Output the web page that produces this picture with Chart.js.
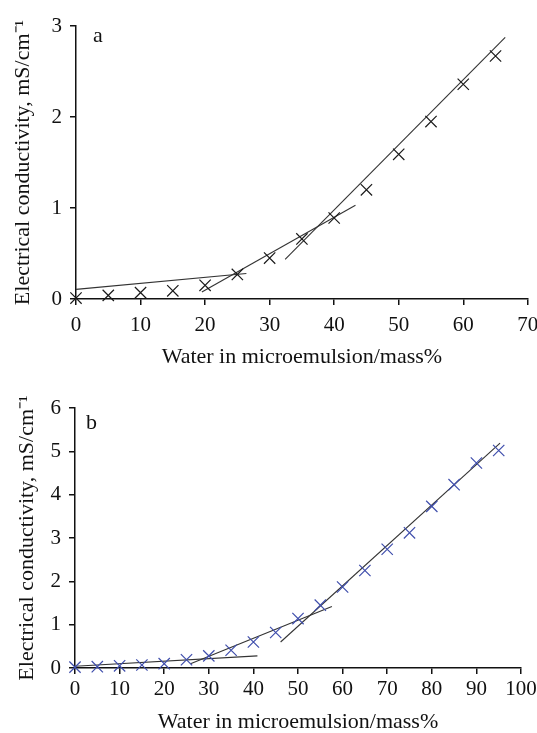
<!DOCTYPE html>
<html>
<head>
<meta charset="utf-8">
<script src="https://cdn.jsdelivr.net/npm/chart.js@4.4.1/dist/chart.umd.min.js"></script>
<style>
  html, body { margin: 0; background: #fff; overflow: hidden; }
  #wrap { position: relative; width: 537px; height: 733px; overflow: hidden; }
  canvas { position: absolute; left: 0; }
  #chartA { top: 0; }
  #chartB { top: 370px; }
  .tag { position: absolute; font-family: "Liberation Serif", serif; font-size: 22px; color: #111; }
</style>
</head>
<body>
<div id="wrap">
  <canvas id="chartA" width="537" height="370"></canvas>
  <canvas id="chartB" width="537" height="366"></canvas>
  <div class="tag" style="left:93px; top:22px;">a</div>
  <div class="tag" style="left:86px; top:409px;">b</div>
</div>
<script>
// panel a
var waterA = [0, 5, 10, 15, 20, 25, 30, 35, 40, 45, 50, 55, 60, 65];
var condA = [0.01, 0.04, 0.07, 0.09, 0.15, 0.27, 0.45, 0.66, 0.89, 1.20, 1.59, 1.95, 2.36, 2.67];
var fitA1x = [0, 26.4], fitA1y = [0.106, 0.28];
var fitA2x = [19.5, 43.3], fitA2y = [0.077, 1.03];
var fitA3x = [32.4, 66.5], fitA3y = [0.436, 2.875];

// panel b
var waterB = [0, 5, 10, 15, 20, 25, 30, 35, 40, 45, 50, 55, 60, 65, 70, 75, 80, 85, 90, 95];
var condB = [0.02, 0.03, 0.05, 0.07, 0.10, 0.19, 0.28, 0.41, 0.60, 0.82, 1.14, 1.45, 1.87, 2.25, 2.74, 3.12, 3.73, 4.23, 4.73, 5.02];
var fitB1x = [0, 40.9], fitB1y = [0.04, 0.28];
var fitB2x = [25.9, 57.6], fitB2y = [0.10, 1.42];
var fitB3x = [46.1, 95.3], fitB3y = [0.60, 5.19];

var xTitle = "Water in microemulsion/mass%";
var yTitle = "Electrical conductivity, mS/cm\u207B\u00B9";

function pts(xs, ys) {
  var out = [];
  for (let i = 0; i < xs.length; i++) {
    out.push({x: xs[i], y: ys[i]});
  }
  return out;
}

function fitLine(xs, ys) {
  return {
    type: "line",
    data: pts(xs, ys),
    borderColor: "#333",
    borderWidth: 1.1,
    pointRadius: 0,
    fill: false,
    clip: false
  };
}

function makeChart(id, xs, ys, fits, markColor, xMax, yMax, o) {
  var serif = "'Liberation Serif', 'Times New Roman', serif";
  var datasets = [{
    type: "scatter",
    data: pts(xs, ys),
    pointStyle: "crossRot",
    pointRadius: 8,
    borderColor: markColor,
    borderWidth: 1.2,
    backgroundColor: markColor,
    clip: false
  }];
  for (let f of fits) datasets.push(fitLine(f[0], f[1]));

  return new Chart(document.getElementById(id), {
    type: "scatter",
    data: { datasets: datasets },
    options: {
      responsive: false,
      animation: false,
      devicePixelRatio: 1,
      layout: { padding: o.pad },
      plugins: { legend: { display: false }, tooltip: { enabled: false } },
      scales: {
        x: {
          type: "linear", min: 0, max: xMax,
          ticks: { stepSize: 10, color: "#111", padding: o.xTickPad, font: { family: serif, size: 21 } },
          grid: { drawOnChartArea: false, drawTicks: true, tickLength: 6, color: "#111", lineWidth: 1.5 },
          border: { color: "#111", width: 1.5 },
          title: { display: true, text: xTitle, color: "#111", padding: { top: 4, bottom: o.xTitlePad }, font: { family: serif, size: 22 } },
          afterFit: function(s) { s.height = o.xH; s.paddingRight = 0; s.paddingLeft = 0; }
        },
        y: {
          type: "linear", min: 0, max: yMax,
          ticks: { stepSize: 1, color: "#111", padding: 8, font: { family: serif, size: 21 } },
          grid: { drawOnChartArea: false, drawTicks: true, tickLength: 6, color: "#111", lineWidth: 1.5 },
          border: { color: "#111", width: 1.5 },
          title: { display: true, text: yTitle, color: "#111", padding: { top: o.yTitlePad, bottom: 0 }, font: { family: serif, size: 22 } },
          afterFit: function(s) { s.width = o.yW; }
        }
      }
    }
  });
}

makeChart("chartA", waterA, condA,
  [[fitA1x, fitA1y], [fitA2x, fitA2y], [fitA3x, fitA3y]],
  "#1a1a1a", 70, 3,
  { yW: 76, xH: 71, xTickPad: 8, xTitlePad: 0, yTitlePad: 10, pad: { left: 0, right: 6, top: 26, bottom: 0 } });

makeChart("chartB", waterB, condB,
  [[fitB1x, fitB1y], [fitB2x, fitB2y], [fitB3x, fitB3y]],
  "#3f4eac", 100, 6,
  { yW: 75, xH: 68, xTickPad: 3, xTitlePad: 1, yTitlePad: 14, pad: { left: 0, right: 16, top: 38, bottom: 0 } });
</script>
</body>
</html>
